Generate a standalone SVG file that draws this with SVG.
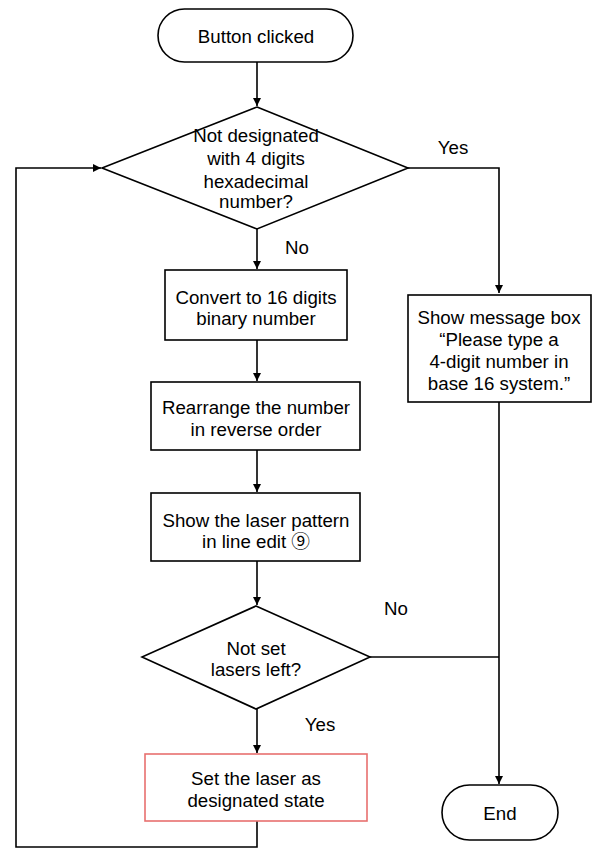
<svg xmlns="http://www.w3.org/2000/svg" width="609" height="862" viewBox="0 0 609 862">
<defs>
<marker id="ah" viewBox="0 0 10 10" refX="10" refY="5" markerWidth="8" markerHeight="10" markerUnits="userSpaceOnUse" orient="auto">
<path d="M0,0 L10,5 L0,10 z" fill="#000"/>
</marker>
<style>
.s{fill:#fff;stroke:#000;stroke-width:1.6}
.r{fill:#fff;stroke:#e8706f;stroke-width:1.6}
.c{fill:none;stroke:#000;stroke-width:1.6}
text{font-family:"Liberation Sans","Noto Sans CJK JP",sans-serif;font-size:18.7px;fill:#000;text-anchor:middle}
</style>
</defs>
<rect width="609" height="862" fill="#fff"/>
<g id="connectors">
<path class="c" d="M257,62 V106" marker-end="url(#ah)"/>
<path class="c" d="M257,229 V269" marker-end="url(#ah)"/>
<path class="c" d="M257,340 V381" marker-end="url(#ah)"/>
<path class="c" d="M257,450 V492" marker-end="url(#ah)"/>
<path class="c" d="M257,561 V605" marker-end="url(#ah)"/>
<path class="c" d="M257,709 V753" marker-end="url(#ah)"/>
<path class="c" d="M257,821 V847 H16 V168 H101" marker-end="url(#ah)"/>
<path class="c" d="M408,168 H499 V293" marker-end="url(#ah)"/>
<path class="c" d="M499,402 V784" marker-end="url(#ah)"/>
<path class="c" d="M370,657 H499"/>
<text x="453" y="154">Yes</text>
<text x="297" y="254">No</text>
<text x="396" y="615">No</text>
<text x="320" y="731">Yes</text>
</g>
<g id="start">
<rect class="s" x="158" y="9" width="195" height="53" rx="26.5"/>
<text x="256" y="43">Button clicked</text>
</g>
<g id="decision1">
<path class="s" d="M257,107 L408,168 L257,229 L102,168 z"/>
<text x="256" y="142">Not designated</text>
<text x="256" y="165">with 4 digits</text>
<text x="256" y="188">hexadecimal</text>
<text x="256" y="208">number?</text>
</g>
<g id="convert">
<rect class="s" x="165" y="270" width="182" height="70"/>
<text x="256" y="304">Convert to 16 digits</text>
<text x="256" y="325">binary number</text>
</g>
<g id="rearrange">
<rect class="s" x="151" y="382" width="209" height="68"/>
<text x="256" y="414">Rearrange the number</text>
<text x="256" y="436">in reverse order</text>
</g>
<g id="show">
<rect class="s" x="151" y="493" width="209" height="68"/>
<text x="256" y="527">Show the laser pattern</text>
<text x="256" y="548">in line edit ⑨</text>
</g>
<g id="decision2">
<path class="s" d="M256,606 L370,657 L256,709 L142,657 z"/>
<text x="256" y="655">Not set</text>
<text x="256" y="676">lasers left?</text>
</g>
<g id="setlaser">
<rect class="r" x="145" y="754" width="222" height="67"/>
<text x="256" y="785">Set the laser as</text>
<text x="256" y="807">designated state</text>
</g>
<g id="message">
<rect class="s" x="408" y="295" width="183" height="107"/>
<text x="499" y="324">Show message box</text>
<text x="499" y="346">“Please type a</text>
<text x="499" y="368">4-digit number in</text>
<text x="499" y="390">base 16 system.”</text>
</g>
<g id="end">
<rect class="s" x="442" y="785" width="116" height="55" rx="27.5"/>
<text x="500" y="820">End</text>
</g>
</svg>
